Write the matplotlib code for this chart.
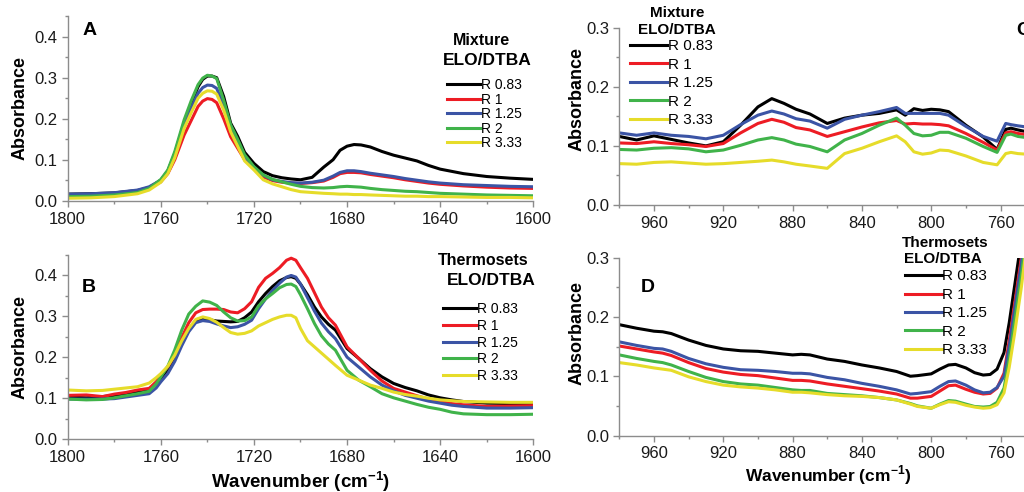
import matplotlib.pyplot as plt
from matplotlib.ticker import MultipleLocator, FormatStrFormatter

plt.rcParams['font.family'] = ['Liberation Sans', 'DejaVu Sans']
plt.rcParams['mathtext.fontset'] = 'custom'
plt.rcParams['mathtext.rm'] = 'Liberation Sans'
plt.rcParams['mathtext.bf'] = 'Liberation Sans:bold'

labels = ['R 0.83', 'R 1', 'R 1.25', 'R 2', 'R 3.33']
colors = ['#000000', '#ed1c24', '#3b54a5', '#40b34a', '#e6dc2a']

# A - mixture, carbonyl region
wn_a = [1800, 1790, 1780, 1770, 1765, 1760, 1757, 1754, 1750, 1747, 1744, 1742, 1740, 1738,
        1736, 1733, 1730, 1727, 1724, 1720, 1716, 1712, 1708, 1704, 1700, 1695, 1690, 1686,
        1683, 1680, 1677, 1674, 1670, 1665, 1660, 1655, 1650, 1645, 1640, 1630, 1620, 1610, 1600]
a_083 = [.016, .017, .019, .025, .032, .050, .072, .115, .190, .236, .278, .296, .304, .304,
         .300, .254, .189, .157, .118, .091, .071, .061, .056, .053, .051, .057, .082, .100,
         .123, .133, .137, .136, .131, .120, .111, .104, .097, .086, .077, .066, .059, .055, .052]
a_1 = [.013, .014, .016, .022, .030, .046, .066, .100, .160, .195, .230, .243, .249, .247,
       .239, .200, .156, .128, .100, .079, .058, .049, .045, .043, .042, .044, .048, .057,
       .066, .069, .069, .068, .064, .060, .056, .051, .047, .043, .040, .036, .033, .031, .030]
a_125 = [.016, .017, .0195, .026, .034, .050, .072, .112, .185, .225, .262, .276, .282, .281,
         .274, .233, .179, .145, .108, .081, .062, .051, .047, .044, .043, .045, .050, .060,
         .069, .073, .073, .071, .067, .063, .059, .054, .050, .046, .043, .039, .037, .035, .034]
a_2 = [.010, .011, .014, .020, .030, .052, .075, .120, .197, .243, .283, .299, .306, .304,
       .298, .245, .185, .150, .112, .083, .063, .052, .046, .040, .035, .032, .031, .032,
       .034, .035, .034, .033, .030, .027, .025, .023, .022, .020, .018, .016, .014, .013, .012]
a_333 = [.006, .007, .010, .017, .026, .045, .066, .105, .176, .214, .250, .262, .268, .267,
         .260, .221, .168, .133, .097, .075, .051, .041, .034, .027, .022, .020, .018, .017,
         .016, .016, .015, .015, .014, .013, .012, .011, .011, .010, .010, .009, .008, .008, .007]

# B - thermosets, carbonyl region
wn_b = [1800, 1792, 1785, 1780, 1775, 1770, 1765, 1762, 1760, 1757, 1754, 1751, 1748, 1745,
        1742, 1739, 1736, 1733, 1730, 1727, 1724, 1721, 1718, 1715, 1712, 1709, 1706, 1704,
        1702, 1700, 1697, 1694, 1691, 1688, 1685, 1680, 1675, 1670, 1665, 1660, 1655, 1650,
        1645, 1640, 1635, 1630, 1620, 1610, 1600]
b_083 = [.103, .101, .104, .107, .111, .115, .122, .135, .148, .170, .200, .240, .268, .288,
         .293, .291, .288, .287, .286, .287, .296, .310, .335, .355, .372, .386, .394, .396,
         .392, .378, .352, .322, .298, .280, .266, .221, .197, .172, .152, .136, .126, .118,
         .108, .101, .096, .092, .088, .087, .087]
b_1 = [.107, .108, .104, .110, .114, .120, .124, .140, .156, .176, .206, .248, .284, .308,
       .316, .317, .317, .316, .310, .308, .318, .335, .370, .392, .404, .418, .436, .441,
       .436, .418, .392, .357, .322, .296, .278, .225, .197, .168, .142, .124, .115, .106,
       .098, .092, .087, .084, .080, .081, .082]
b_125 = [.098, .098, .098, .099, .103, .107, .111, .125, .140, .160, .190, .228, .262, .284,
         .289, .287, .281, .276, .272, .274, .280, .290, .318, .342, .362, .380, .395, .399,
         .395, .378, .345, .312, .283, .262, .245, .200, .176, .152, .132, .118, .107, .100,
         .093, .088, .083, .080, .076, .076, .077]
b_2 = [.098, .096, .097, .101, .106, .111, .117, .135, .152, .178, .218, .266, .305, .324,
       .337, .334, .326, .310, .296, .288, .289, .298, .325, .342, .355, .369, .377, .378,
       .372, .352, .318, .282, .252, .232, .217, .168, .144, .128, .111, .101, .093, .085,
       .078, .073, .066, .062, .060, .060, .061]
b_333 = [.120, .118, .119, .122, .125, .128, .137, .150, .160, .178, .205, .240, .270, .292,
         .298, .294, .285, .272, .260, .256, .258, .264, .276, .284, .292, .298, .302, .302,
         .296, .270, .240, .225, .210, .195, .180, .156, .144, .132, .124, .115, .109, .105,
         .100, .096, .094, .092, .091, .090, .090]

# C - mixture, low wavenumber region
wn_c = [980, 970, 960, 950, 940, 930, 920, 910, 900, 892, 885, 878, 870, 860, 850, 840, 830,
        820, 815, 810, 805, 800, 795, 790, 780, 770, 762, 757, 754, 750, 745, 740, 730]
c_083 = [.116, .110, .117, .111, .105, .100, .107, .135, .166, .180, .172, .162, .154, .138,
         .147, .152, .155, .161, .152, .163, .160, .162, .161, .158, .135, .115, .094, .128,
         .130, .127, .124, .122, .120]
c_1 = [.105, .104, .107, .104, .102, .099, .104, .122, .138, .145, .140, .131, .127, .116,
       .124, .132, .139, .143, .137, .138, .137, .137, .136, .134, .121, .106, .093, .122,
       .124, .121, .119, .117, .115]
c_125 = [.122, .118, .122, .118, .116, .112, .118, .136, .152, .159, .154, .146, .142, .130,
         .145, .152, .158, .165, .155, .155, .155, .155, .155, .152, .133, .116, .108, .138,
         .136, .134, .132, .130, .128]
c_2 = [.094, .093, .096, .097, .095, .090, .093, .101, .110, .114, .110, .103, .099, .090,
       .110, .121, .135, .147, .135, .121, .117, .118, .123, .123, .113, .099, .089, .118,
       .120, .116, .114, .112, .110]
c_333 = [.070, .069, .072, .073, .071, .069, .070, .072, .074, .076, .073, .069, .066, .062,
         .087, .096, .107, .117, .107, .090, .086, .088, .093, .092, .083, .072, .068, .087,
         .089, .087, .086, .085, .084]

# D - thermosets, low wavenumber region
wn_d = [980, 970, 960, 955, 950, 940, 930, 920, 910, 900, 890, 880, 875, 870, 860, 850, 840,
        830, 820, 812, 808, 800, 795, 790, 786, 780, 775, 770, 766, 762, 758, 755, 752, 750,
        748, 745, 740, 730]
d_083 = [.187, .181, .176, .175, .172, .161, .152, .146, .143, .142, .139, .136, .137, .136,
         .129, .125, .119, .114, .108, .100, .101, .104, .112, .119, .120, .114, .106, .102,
         .103, .112, .140, .190, .250, .290, .330, .400, .500, .600]
d_1 = [.151, .146, .141, .139, .135, .123, .113, .107, .103, .101, .097, .093, .093, .092,
       .087, .083, .079, .075, .070, .063, .063, .066, .075, .084, .085, .078, .073, .070,
       .071, .080, .105, .160, .220, .260, .300, .370, .470, .600]
d_125 = [.158, .152, .147, .146, .142, .130, .121, .115, .111, .110, .108, .105, .105, .104,
         .098, .094, .088, .083, .077, .070, .071, .074, .083, .091, .092, .085, .077, .072,
         .073, .081, .100, .150, .210, .250, .290, .360, .460, .600]
d_2 = [.136, .130, .125, .123, .119, .108, .098, .091, .087, .085, .081, .077, .076, .076,
       .071, .069, .067, .064, .060, .054, .050, .046, .053, .059, .058, .053, .049, .048,
       .049, .056, .080, .130, .190, .230, .270, .340, .440, .580]
d_333 = [.123, .119, .114, .112, .110, .099, .091, .085, .082, .080, .077, .073, .073, .072,
         .069, .067, .066, .064, .060, .053, .049, .046, .052, .057, .056, .051, .048, .046,
         .047, .052, .072, .115, .170, .210, .250, .320, .420, .560]

W, H = 1024, 492


def box(left, top, right, bottom):
    # pixel box -> figure fraction
    return [left / W, 1 - bottom / H, (right - left) / W, (bottom - top) / H]


def setup(ax, xlim, ylim):
    ax.spines['top'].set_visible(False)
    ax.spines['right'].set_visible(False)
    for s in ['left', 'bottom']:
        ax.spines[s].set_color('#8c8c8c')
        ax.spines[s].set_linewidth(1.0)
    ax.set_xlim(xlim)
    ax.set_ylim(ylim)
    ax.xaxis.set_major_locator(MultipleLocator(40))
    ax.xaxis.set_minor_locator(MultipleLocator(20))
    ax.yaxis.set_major_locator(MultipleLocator(0.1))
    ax.yaxis.set_minor_locator(MultipleLocator(0.05))
    ax.yaxis.set_major_formatter(FormatStrFormatter('%.1f'))
    ax.tick_params(which='both', direction='out', color='#8c8c8c', width=1.0)
    ax.tick_params(which='major', length=4.3, labelsize=12, labelcolor='#1a1a1a')
    ax.tick_params(which='minor', length=2.4)
    ax.tick_params(axis='x', pad=3.5)
    ax.tick_params(axis='y', pad=3)


def draw(ax, wn, curves):
    for ys, c, lab in zip(curves, colors, labels):
        ax.plot(wn, ys, color=c, lw=2.2, label=lab, solid_joinstyle='round')


def legend(ax, x, y, fs, spacing):
    ax.legend(loc='upper left', bbox_to_anchor=(x, y), frameon=False, fontsize=fs,
              handlelength=2.4, handletextpad=0.05, labelspacing=spacing,
              borderpad=0, borderaxespad=0)


fig = plt.figure(figsize=(W / 100, H / 100), dpi=100)

axA = fig.add_axes(box(67.7, 16.2, 533.3, 200.7))
axB = fig.add_axes(box(67.7, 254.5, 533.3, 439.3))
axC = fig.add_axes(box(619.3, 27.7, 1035.2, 205))
axD = fig.add_axes(box(619.3, 257.7, 1035.2, 435.5))

draw(axA, wn_a, [a_083, a_1, a_125, a_2, a_333])
draw(axB, wn_b, [b_083, b_1, b_125, b_2, b_333])
draw(axC, wn_c, [c_083, c_1, c_125, c_2, c_333])
draw(axD, wn_d, [d_083, d_1, d_125, d_2, d_333])

setup(axA, (1800, 1600), (0, 0.45))
setup(axB, (1800, 1600), (0, 0.45))
setup(axC, (980, 740), (0, 0.3))
setup(axD, (980, 740), (0, 0.3))

for ax, xl, yl in [(axA, -0.085, 0.5), (axB, -0.085, 0.5), (axC, -0.08, 0.6), (axD, -0.08, 0.575)]:
    ax.set_ylabel('Absorbance', fontsize=13, fontweight='bold')
    ax.yaxis.set_label_coords(xl, yl)

axB.set_xlabel(r'Wavenumber (cm$^{\mathbf{-1}}$)', fontsize=13.5, fontweight='bold')
axB.xaxis.set_label_coords(0.5, -0.16)
axD.set_xlabel(r'Wavenumber (cm$^{\mathbf{-1}}$)', fontsize=12.5, fontweight='bold')
axD.xaxis.set_label_coords(0.502, -0.156)

# panel letters
axA.text(0.048, 0.92, 'A', transform=axA.transAxes, fontsize=14, fontweight='bold', ha='center', va='center')
axB.text(0.046, 0.824, 'B', transform=axB.transAxes, fontsize=14, fontweight='bold', ha='center', va='center')
axC.text(0.955, 0.987, 'C', transform=axC.transAxes, fontsize=14, fontweight='bold', ha='left', va='center')
axD.text(0.069, 0.833, 'D', transform=axD.transAxes, fontsize=14, fontweight='bold', ha='center', va='center')

# legend titles
axA.text(0.888, 0.866, 'Mixture', transform=axA.transAxes, fontsize=11.5, fontweight='bold', ha='center', va='center')
axA.text(0.901, 0.762, 'ELO/DTBA', transform=axA.transAxes, fontsize=12.5, fontweight='bold', ha='center', va='center')
axB.text(0.892, 0.97, 'Thermosets', transform=axB.transAxes, fontsize=11.5, fontweight='bold', ha='center', va='center')
axB.text(0.909, 0.862, 'ELO/DTBA', transform=axB.transAxes, fontsize=12.5, fontweight='bold', ha='center', va='center')
axC.text(0.139, 1.083, 'Mixture', transform=axC.transAxes, fontsize=11, fontweight='bold', ha='center', va='center')
axC.text(0.138, 0.987, 'ELO/DTBA', transform=axC.transAxes, fontsize=11, fontweight='bold', ha='center', va='center')
axD.text(0.783, 1.08, 'Thermosets', transform=axD.transAxes, fontsize=11, fontweight='bold', ha='center', va='center')
axD.text(0.778, 0.99, 'ELO/DTBA', transform=axD.transAxes, fontsize=11, fontweight='bold', ha='center', va='center')

legend(axA, 0.815, 0.665, 10, 0.04)
legend(axB, 0.806, 0.743, 10, 0.2)
legend(axC, 0.026, 0.936, 11, 0.3)
legend(axD, 0.687, 0.934, 11, 0.29)

fig.savefig('out.png', dpi=100)
